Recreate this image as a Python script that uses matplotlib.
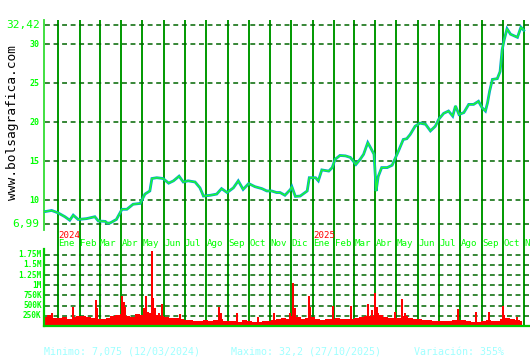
import matplotlib
matplotlib.use("Agg")
import matplotlib.pyplot as plt
import matplotlib.dates as mdates
import matplotlib.transforms as mtrans
import pandas as pd

# ---------------- data ----------------
price_dates = ["2023-12-13","2023-12-23","2024-01-01","2024-01-11","2024-01-18","2024-01-23","2024-01-30",
    "2024-02-11","2024-02-23","2024-02-28","2024-03-09","2024-03-12","2024-03-16","2024-03-25","2024-04-02",
    "2024-04-09","2024-04-18","2024-04-28","2024-05-05","2024-05-12","2024-05-15","2024-05-22","2024-05-31",
    "2024-06-08","2024-06-15","2024-06-23","2024-06-29","2024-07-06","2024-07-16","2024-07-23","2024-07-28",
    "2024-08-07","2024-08-16","2024-08-23","2024-08-31","2024-09-09","2024-09-16","2024-09-23","2024-10-01",
    "2024-10-10","2024-10-20","2024-10-27","2024-11-03","2024-11-10","2024-11-15","2024-11-22","2024-11-30",
    "2024-12-02","2024-12-07","2024-12-14","2024-12-24","2024-12-27","2025-01-05","2025-01-09","2025-01-14",
    "2025-01-24","2025-01-29","2025-02-02","2025-02-09","2025-02-17","2025-02-24","2025-03-04","2025-03-10",
    "2025-03-15","2025-03-21","2025-03-25","2025-03-30","2025-04-01","2025-04-02","2025-04-05","2025-04-10",
    "2025-04-18","2025-04-25","2025-04-30","2025-05-04","2025-05-11","2025-05-16","2025-05-21","2025-05-28",
    "2025-06-04","2025-06-12","2025-06-19","2025-06-26","2025-07-01","2025-07-08","2025-07-15","2025-07-21",
    "2025-07-25","2025-07-30","2025-08-06","2025-08-13","2025-08-20","2025-08-27","2025-09-01","2025-09-06",
    "2025-09-09","2025-09-12","2025-09-16","2025-09-23","2025-09-27","2025-09-30","2025-10-03","2025-10-07",
    "2025-10-12","2025-10-17","2025-10-22","2025-10-27","2025-10-31"]
prices = [8.55, 8.7, 8.4, 7.9, 7.45, 8.1, 7.55, 7.65, 7.9, 7.35, 7.3, 7.075, 7.1, 7.55, 8.85, 8.85, 9.5, 9.6,
    10.8, 11.2, 12.8, 12.9, 12.8, 12.2, 12.5, 13.1, 12.35, 12.5, 12.35, 11.6, 10.55, 10.65, 10.8, 11.5, 11.0,
    11.6, 12.5, 11.4, 12.15, 11.75, 11.5, 11.2, 11.2, 11.0, 11.0, 10.65, 11.4, 11.75, 10.5, 10.55, 11.2, 12.9,
    12.9, 12.5, 13.9, 13.75, 14.2, 15.25, 15.75, 15.7, 15.5, 14.6, 15.25, 15.9, 17.4, 16.75, 15.9, 12.9, 11.2,
    13.05, 14.2, 14.2, 14.5, 15.5, 16.3, 17.8, 17.9, 18.45, 19.5, 19.9, 19.75, 18.9, 19.5, 20.4, 21.15, 21.45,
    20.8, 22.1, 21.0, 21.25, 22.3, 22.3, 22.7, 21.9, 21.45, 22.5, 24.0, 25.5, 25.6, 26.5, 29.3, 30.6, 32.0,
    31.3, 31.1, 30.9, 32.2, 31.8]

# weekly base volume (thousands), starting 2023-12-13
vol_start = "2023-12-13"
vol_base_k = [230, 260, 200,
    190, 210, 160, 220, 240,
    250, 210, 190, 160,
    170, 200, 240, 270,
    290, 250, 230, 300,
    280, 350, 320, 260, 240,
    230, 200, 190, 170,
    150, 140, 130, 120, 140,
    130, 150, 170, 130,
    120, 130, 110, 140,
    120, 110, 100, 130, 120,
    150, 180, 200, 170,
    240, 210, 180, 200,
    210, 160, 140, 170, 180,
    200, 180, 170, 180,
    190, 220, 240, 250,
    330, 270, 230, 200, 190,
    200, 240, 200, 170,
    160, 150, 140, 130,
    120, 115, 130, 140, 150,
    140, 120, 110, 105,
    130, 150, 125, 115,
    160, 200, 160, 140, 130]

spike_dates = ["2023-12-23","2024-01-22","2024-02-24","2024-02-26","2024-03-27","2024-04-02","2024-04-05",
    "2024-04-06","2024-05-04","2024-05-06","2024-05-15","2024-05-16","2024-05-19","2024-05-25","2024-05-30",
    "2024-06-24","2024-08-20","2024-08-22","2024-09-14","2024-10-15","2024-11-06","2024-11-30","2024-12-03",
    "2024-12-04","2024-12-06","2024-12-26","2024-12-28","2025-01-30","2025-02-25","2025-03-21","2025-03-27",
    "2025-03-31","2025-04-01","2025-04-03","2025-04-29","2025-05-09","2025-05-13","2025-07-29","2025-08-23",
    "2025-09-11","2025-10-01","2025-10-02","2025-10-22"]
spike_k = [320, 465, 640, 440, 270, 745, 600, 470, 440, 745, 1850, 690, 440, 320, 540, 290, 460, 320, 320,
    210, 310, 320, 1060, 540, 440, 745, 470, 490, 490, 540, 390, 800, 620, 470, 350, 660, 320, 420, 350,
    350, 500, 270, 210]

price_ticks = [6.99, 10, 15, 20, 25, 30, 32.42]
price_tick_labels = ["6,99", "10", "15", "20", "25", "30", "32,42"]
vol_ticks = [250e3, 500e3, 750e3, 1e6, 1.25e6, 1.5e6, 1.75e6]
vol_tick_labels = ["250K", "500K", "750K", "1M", "1.25M", "1.5M", "1.75M"]
month_names = ["Ene", "Feb", "Mar", "Abr", "May", "Jun", "Jul", "Ago", "Sep", "Oct", "Nov", "Dic"]

stats_text = ["Minimo: 7,075 (12/03/2024)", "Maximo: 32,2 (27/10/2025)", "Variación: 355%"]

# ---------------- figure ----------------
W, H = 530, 360
fig = plt.figure(figsize=(W / 100, H / 100), dpi=100)
fig.patch.set_facecolor("white")
mono = "DejaVu Sans Mono"

ax = fig.add_axes([44 / W, 1 - 249 / H, 486 / W, 229 / H])
axv = fig.add_axes([44 / W, 1 - 326 / H, 486 / W, 77 / H])

x0 = mdates.date2num(pd.Timestamp("2023-12-12"))
x1 = mdates.date2num(pd.Timestamp("2025-11-09"))

GRID = "#006600"
VLINE = "#009900"
LBL = "#00ff00"

for a in (ax, axv):
    a.set_xlim(x0, x1)
    a.set_xticks([])
    a.set_yticks([])
    a.set_facecolor("white")
    for s in a.spines.values():
        s.set_visible(False)

ax.set_ylim(3.76, 33.12)
axv.set_ylim(0, 1.89e6)

# month lines
months = pd.date_range("2024-01-01", "2025-11-01", freq="MS")
for m in months:
    xm = mdates.date2num(m)
    ax.axvline(xm, color=VLINE, lw=1.4, zorder=1)
    axv.axvline(xm, color=VLINE, lw=1.4, zorder=1)

# horizontal dashed gridlines
for v in price_ticks:
    ax.axhline(v, xmin=0.003, color=GRID, lw=1.1, dashes=(3.2, 2.4), zorder=1)
for v in vol_ticks:
    axv.axhline(v, xmin=0.003, color=GRID, lw=1.1, dashes=(3.2, 2.4), zorder=1)

# left spine of price panel (partial)
ax.spines["left"].set_visible(True)
ax.spines["left"].set_bounds(6.19, 33.12)
ax.spines["left"].set_color("#33dd33")
ax.spines["left"].set_linewidth(1.3)

for side in ("left", "bottom"):
    axv.spines[side].set_visible(True)
    axv.spines[side].set_color("#00cc00")
    axv.spines[side].set_linewidth(1.6)
    axv.spines[side].set_zorder(5)

# price series
pdates = mdates.date2num(pd.to_datetime(price_dates))
ax.plot(pdates, prices, color="#00a8c8", lw=2.0, zorder=3, solid_joinstyle="miter")
ax.plot(pdates, prices, color="#22ff22", lw=0.9, zorder=4)

# volume
vdates = mdates.date2num(pd.date_range(vol_start, periods=len(vol_base_k), freq="7D"))
axv.fill_between(vdates, 0, [v * 1e3 for v in vol_base_k], step="mid", color="#ff0000", lw=0, zorder=2)
sdates = mdates.date2num(pd.to_datetime(spike_dates))
axv.vlines(sdates, 0, [v * 1e3 for v in spike_k], color="#ff0000", lw=1.1, antialiased=False, zorder=2)

# y labels
for v, t in zip(price_ticks, price_tick_labels):
    big = "," in t
    ax.text(-0.009, v, t, transform=mtrans.blended_transform_factory(ax.transAxes, ax.transData),
            ha="right", va="center", color=LBL, family=mono,
            fontsize=8 if big else 6, fontweight="normal" if big else "bold")
for v, t in zip(vol_ticks, vol_tick_labels):
    axv.text(-0.005, v, t, transform=mtrans.blended_transform_factory(axv.transAxes, axv.transData),
             ha="right", va="center", color=LBL, family=mono, fontsize=5.6, fontweight="bold")

# month labels
btr = mtrans.blended_transform_factory(ax.transData, ax.transAxes)
for m in months:
    xm = mdates.date2num(m)
    ax.text(xm + 0.5, 0.022, month_names[m.month - 1], transform=btr, ha="left", va="center",
            color=LBL, family=mono, fontsize=6.6, clip_on=False)
    if m.month == 1:
        ax.text(xm + 0.5, 0.058, str(m.year), transform=btr, ha="left", va="center",
                color="#ff0000", family=mono, fontsize=6.6)

# site text
fig.text(13 / W, 1 - 122 / H, "www.bolsagrafica.com", rotation=90, ha="center", va="center",
         color="black", family=mono, fontsize=9.3)

# bottom stats
for xs, t in zip([44, 231, 414], stats_text):
    fig.text(xs / W, 1 - 352 / H, t, ha="left", va="center", color="#a0ffff", family=mono, fontsize=7.2)

fig.savefig("out.png", dpi=100, facecolor="white")
